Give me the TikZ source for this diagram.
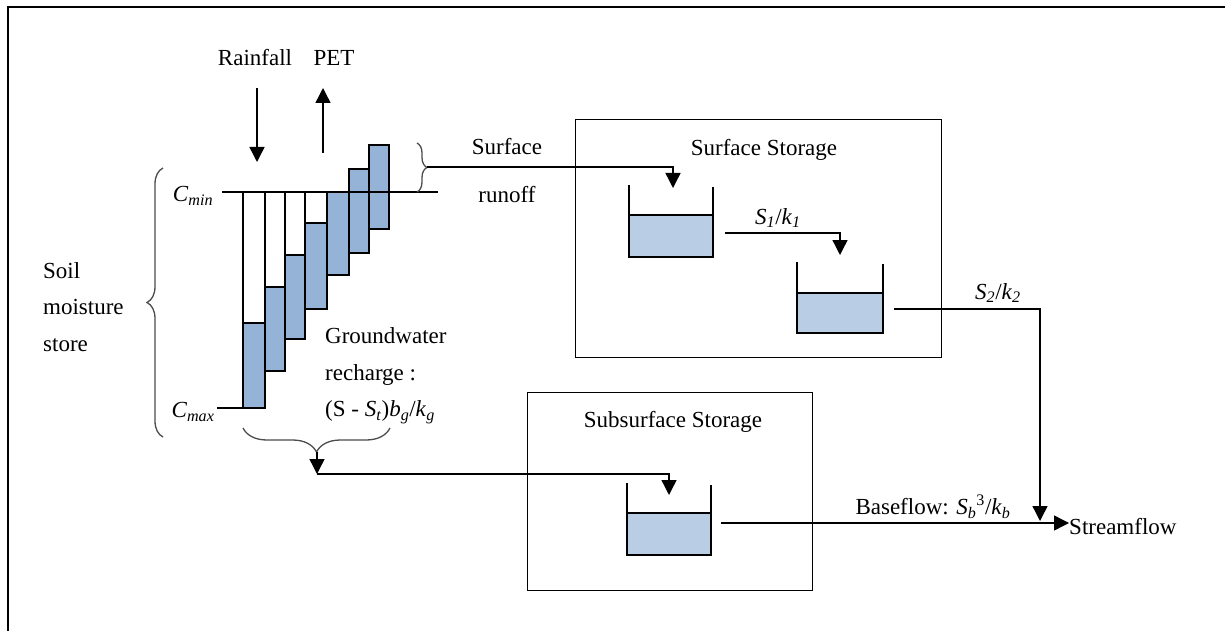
\documentclass[tikz,border=0pt]{standalone}
\usepackage{fontspec}
\setmainfont{Liberation Serif}
\usetikzlibrary{arrows.meta,decorations.pathreplacing,calc}
\definecolor{barblue}{RGB}{149,179,215}
\definecolor{tankblue}{RGB}{185,205,229}
\begin{document}
\begin{tikzpicture}[x=1pt,y=-1pt,
  ln/.style={line width=1.4pt},
  arr/.style={line width=1.4pt,-{Triangle[width=15pt,length=15pt]}},
  lbl/.style={font=\fontsize{23}{36.5}\selectfont, inner sep=0pt},
  barbox/.style={draw,line width=1.4pt,fill=barblue},
  brc/.style={draw=black!70,line width=1.3pt,decorate,decoration={brace,amplitude=#1}},
]
\useasboundingbox (0,0) rectangle (1225,631);
% outer frame
\draw[line width=2.4pt] (8,640) -- (8,7) -- (1235,7);

% soil moisture bars
\foreach \xa/\xb/\yw/\yb in {243/265/323/408, 265/285/287/371, 285/305/255/339, 305/327/223/309} {
  \fill[barblue] (\xa,\yw) rectangle (\xb,\yb);
  \draw[ln] (\xa,192) rectangle (\xb,\yb);
  \draw[ln] (\xa,\yw) -- (\xb,\yw);
}
\draw[barbox] (327,192) rectangle (349,275);
\draw[barbox] (349,169) rectangle (369,253);
\draw[barbox] (369,145) rectangle (389,229);
\draw[ln] (222,192) -- (438,192);
\draw[ln] (217,408) -- (243,408);

% labels
\node[lbl] (rain) at (255,58) {Rainfall};
\node[lbl] (pet) at (334,58) {PET};
\node[lbl] (cmin) at (193,196) {\textit{C}\textsubscript{\textit{min}}};
\node[lbl] (cmax) at (193,412) {\textit{C}\textsubscript{\textit{max}}};
\node[lbl,align=left,anchor=west] (soil) at (43,307) {Soil\\moisture\\store};
\node[lbl,align=left,anchor=west] (gw) at (325,376) {Groundwater\\recharge :\\(S - \textit{S}\textsubscript{\textit{t}})\textit{b}\textsubscript{\textit{g}}/\textit{k}\textsubscript{\textit{g}}};
\node[lbl] (surf) at (507,147) {Surface};
\node[lbl] (runoff) at (507,195) {runoff};

% rainfall / PET arrows
\coordinate (rainS) at (257,88);
\coordinate (rainE) at (257,162);
\coordinate (petS) at (323,153);
\coordinate (petE) at (323,88);
\draw[arr] (rainS) -- (rainE);
\draw[arr] (petS) -- (petE);

% braces
\draw[brc=16pt] (163,437) -- (163,168);
\draw[brc=10pt] (417,143) -- (417,192);
\draw[brc=24pt] (390,428) -- (243,428);
\coordinate (rtip) at (427,167);
\coordinate (gtip) at (317,452);
\coordinate (gdown) at (317,474);

% surface storage
\node[draw,ln,minimum width=366pt,minimum height=238pt,inner sep=0pt,anchor=north west] (sbox) at (575,119) {};
\node[lbl] (stitle) at (764,150) {Surface Storage};
\fill[tankblue] (629,215) rectangle (713,257);
\draw[ln] (629,185) -- (629,257) -- (713,257) -- (713,187);
\draw[ln] (629,215) -- (713,215);
\fill[tankblue] (797,293) rectangle (883,333);
\draw[ln] (797,262) -- (797,333) -- (883,333) -- (883,264);
\draw[ln] (797,293) -- (883,293);
\coordinate (t1in) at (673,188);
\coordinate (t1out) at (725,233);
\coordinate (t2in) at (840,255);
\coordinate (t2out) at (894,309);
\draw[arr] (rtip) -| (t1in);
\draw[arr] (t1out) -| (t2in);
\node[lbl] (s1k1) at (778,218) {\textit{S}\textsubscript{\textit{1}}/\textit{k}\textsubscript{\textit{1}}};

% subsurface storage
\node[draw,ln,minimum width=285pt,minimum height=198pt,inner sep=0pt,anchor=north west] (ssbox) at (527,392) {};
\node[lbl] (sstitle) at (673,422) {Subsurface Storage};
\fill[tankblue] (627,513) rectangle (711,555);
\draw[ln] (627,483) -- (627,555) -- (711,555) -- (711,485);
\draw[ln] (627,513) -- (711,513);
\coordinate (t3in) at (669,495);
\coordinate (t3out) at (721,523);
\draw[arr] (gtip) -- (gdown);
\draw[ln] (gdown) -- (669,474);
\draw[arr] (669,473) -- (t3in);

% streamflow
\node[lbl,anchor=west] (stream) at (1069,527) {Streamflow};
\coordinate (sjoin) at (1040,521);
\draw[arr] (t2out) -| (sjoin);
\draw[arr] (t3out) -- (t3out -| stream.west);
\node[lbl] (s2k2) at (998,293) {\textit{S}\textsubscript{\textit{2}}/\textit{k}\textsubscript{\textit{2}}};
\node[lbl] (base) at (933,507) {Baseflow: \textit{S}\textsubscript{\textit{b}}\textsuperscript{3}/\textit{k}\textsubscript{\textit{b}}};
\end{tikzpicture}
\end{document}
